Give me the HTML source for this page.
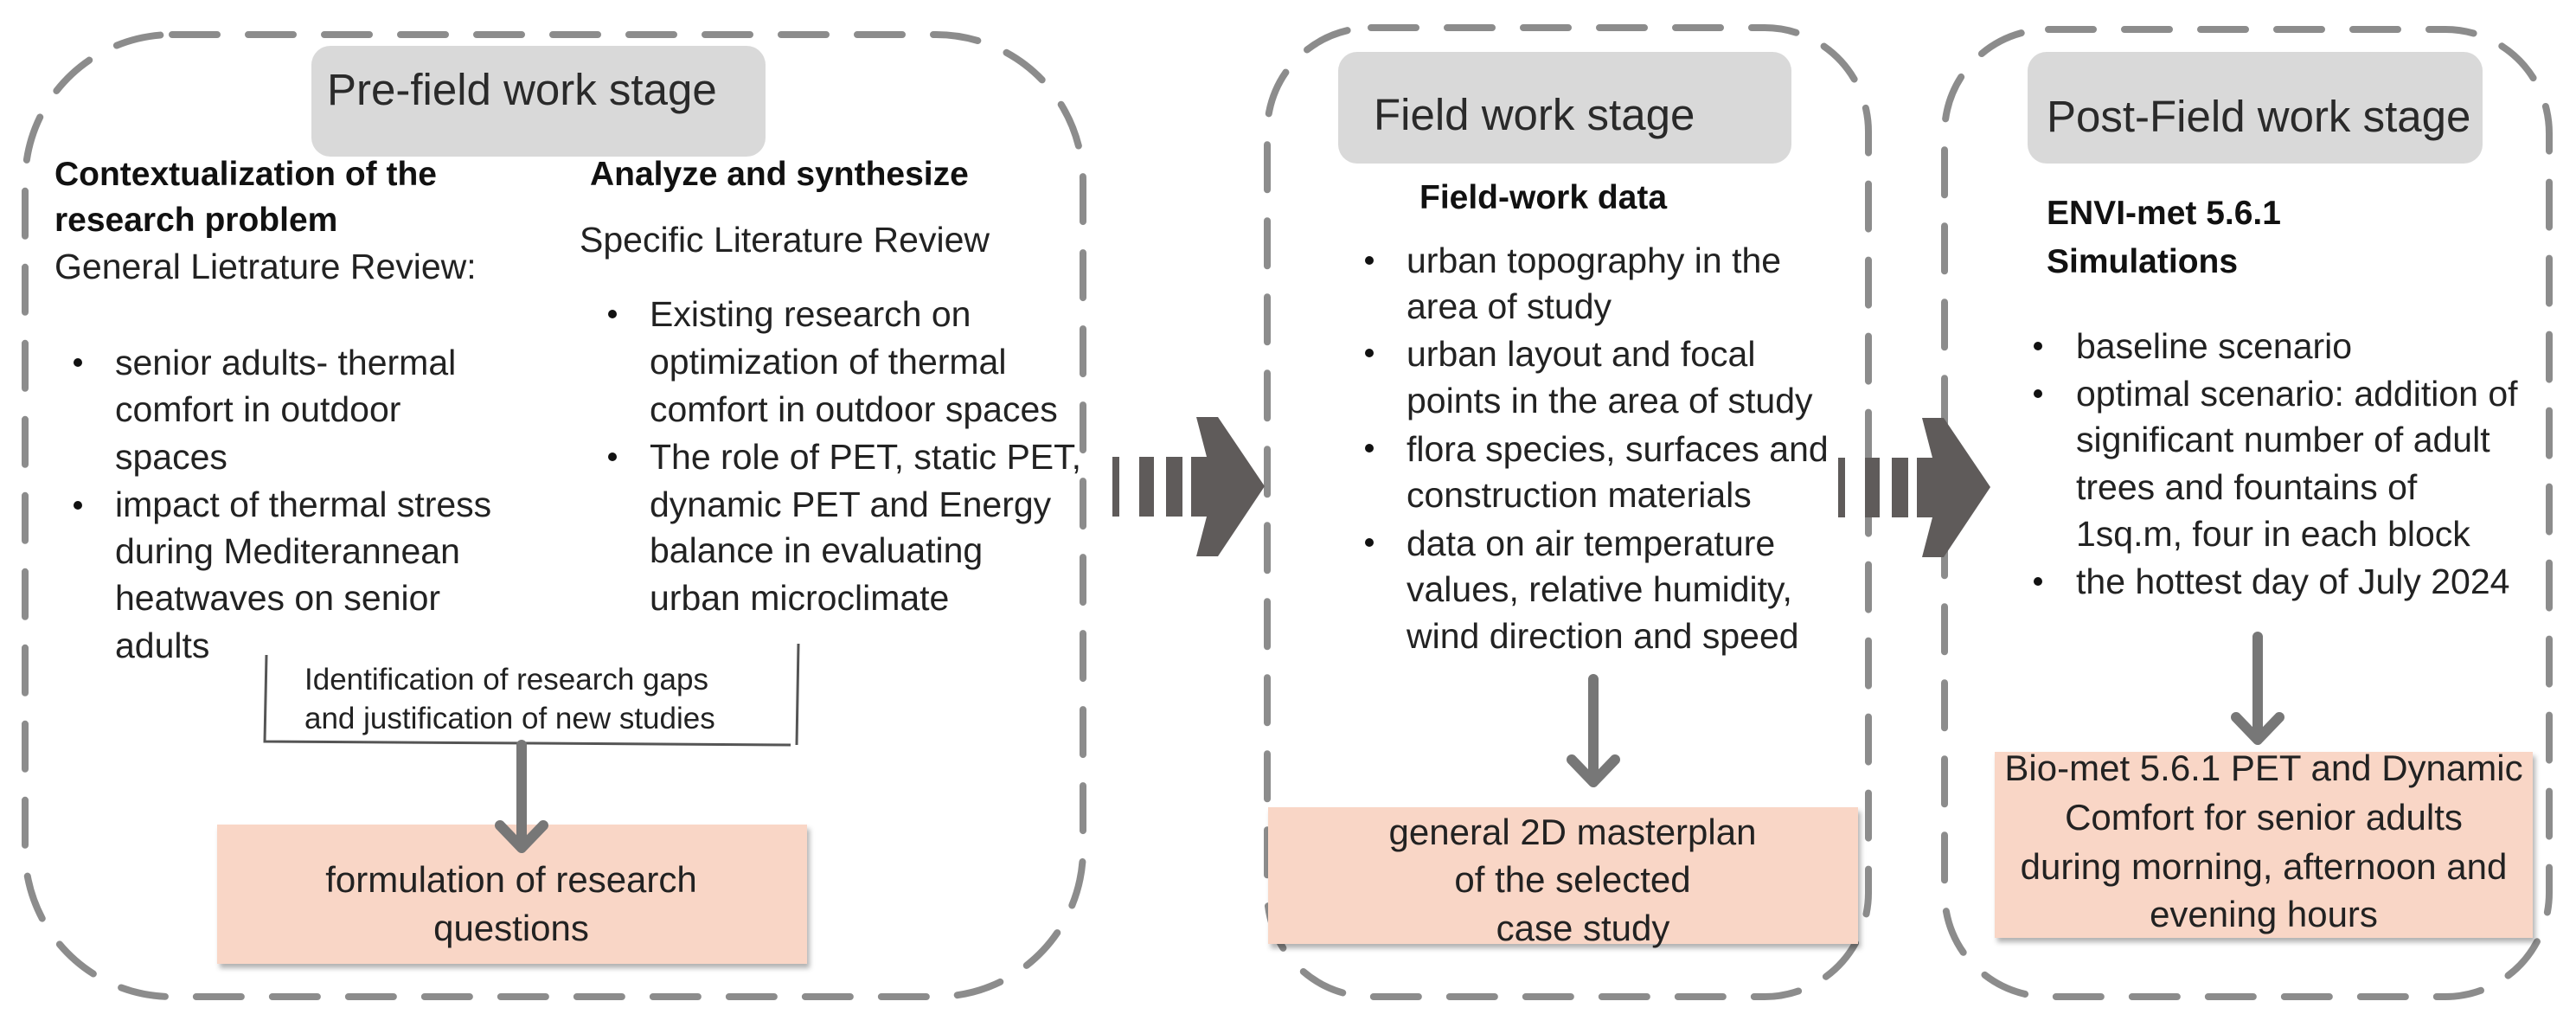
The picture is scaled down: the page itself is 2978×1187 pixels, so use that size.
<!DOCTYPE html>
<html><head><meta charset="utf-8"><style>
html,body{margin:0;padding:0;background:#fff;}
svg{display:block;}
text{font-family:"Liberation Sans",Arial,sans-serif;fill:#222;}
.b{font-size:41px;}
.h{font-size:51px;fill:#2a2a2a;}
.bd{font-size:39px;font-weight:bold;fill:#111;}
.s{font-size:35px;}
.p{font-size:42px;}
</style></head><body>
<svg width="2978" height="1187" viewBox="0 0 2978 1187" xmlns="http://www.w3.org/2000/svg">
<defs>
<filter id="sh" x="-5%" y="-5%" width="115%" height="120%"><feDropShadow dx="3" dy="5" stdDeviation="3" flood-color="#000" flood-opacity="0.3"/></filter>
</defs>
<g fill="none" stroke="#8c8c8c" stroke-width="8" stroke-dasharray="52 36" stroke-linecap="round">
<rect x="29" y="40" width="1223" height="1112" rx="170" ry="170"/>
<rect x="1465" y="32" width="695" height="1120" rx="120" ry="120"/>
<rect x="2248" y="34" width="699" height="1118" rx="120" ry="120"/>
</g>
<!-- headers -->
<rect x="360" y="53" width="525" height="128" rx="22" fill="#d9d9d9"/>
<rect x="1547" y="60" width="524" height="129" rx="22" fill="#d9d9d9"/>
<rect x="2344" y="60" width="526" height="129" rx="22" fill="#d9d9d9"/>
<text class="h" x="378" y="121">Pre-field work stage</text>
<text class="h" x="1588" y="150">Field work stage</text>
<text class="h" x="2366" y="152">Post-Field work stage</text>

<!-- box1 left column -->
<text class="bd" x="63" y="214">Contextualization of the</text>
<text class="bd" x="63" y="267">research problem</text>
<text class="b" x="63" y="322">General Lietrature Review:</text>
<circle cx="90" cy="419" r="5" fill="#111"/>
<circle cx="90" cy="584" r="5" fill="#111"/>
<text class="b" x="133" y="433">senior adults- thermal</text>
<text class="b" x="133" y="487">comfort in outdoor</text>
<text class="b" x="133" y="542">spaces</text>
<text class="b" x="133" y="597">impact of thermal stress</text>
<text class="b" x="133" y="651">during Mediterannean</text>
<text class="b" x="133" y="705">heatwaves on senior</text>
<text class="b" x="133" y="760">adults</text>
<!-- box1 right column -->
<text class="bd" x="682" y="214">Analyze and synthesize</text>
<text class="b" x="670" y="291">Specific Literature Review</text>
<circle cx="708" cy="363" r="5" fill="#111"/>
<circle cx="708" cy="528" r="5" fill="#111"/>
<text class="b" x="751" y="377">Existing research on</text>
<text class="b" x="751" y="432">optimization of thermal</text>
<text class="b" x="751" y="487">comfort in outdoor spaces</text>
<text class="b" x="751" y="542">The role of PET, static PET,</text>
<text class="b" x="751" y="597">dynamic PET and Energy</text>
<text class="b" x="751" y="650">balance in evaluating</text>
<text class="b" x="751" y="705">urban microclimate</text>

<!-- identification bracket -->
<path d="M308 757 L306 857 L914 861 M923 744 L921 861" fill="none" stroke="#555" stroke-width="3"/>
<text class="s" x="352" y="797">Identification of research gaps</text>
<text class="s" x="352" y="842">and justification of new studies</text>

<!-- pink boxes -->
<rect x="251" y="953" width="682" height="161" fill="#f9d6c6" filter="url(#sh)"/>
<rect x="1466" y="933" width="682" height="158" fill="#f9d6c6" filter="url(#sh)"/>
<rect x="2306" y="869" width="622" height="215" fill="#f9d6c6" filter="url(#sh)"/>
<g text-anchor="middle">
<text class="p" x="591" y="1031">formulation of research</text>
<text class="p" x="591" y="1087">questions</text>
<text class="p" x="1818" y="976">general 2D masterplan</text>
<text class="p" x="1818" y="1031">of the selected</text>
<text class="p" x="1830" y="1087">case study</text>
<text class="p" x="2617" y="902">Bio-met 5.6.1 PET and Dynamic</text>
<text class="p" x="2617" y="959">Comfort  for senior adults</text>
<text class="p" x="2617" y="1016">during morning, afternoon and</text>
<text class="p" x="2617" y="1071">evening hours</text>
</g>

<!-- small arrows -->
<g fill="none" stroke="#777" stroke-width="12" stroke-linecap="round" stroke-linejoin="round">
<path d="M603 861 L603 978 M578 954 L603 980 L628 954"/>
<path d="M1842 785 L1842 902 M1817 878 L1842 904 L1867 878"/>
<path d="M2610 736 L2610 853 M2585 829 L2610 855 L2635 829"/>
</g>

<!-- box2 -->
<text class="bd" x="1641" y="241">Field-work data</text>
<circle cx="1583" cy="301" r="5" fill="#111"/>
<circle cx="1583" cy="408" r="5" fill="#111"/>
<circle cx="1583" cy="518" r="5" fill="#111"/>
<circle cx="1583" cy="627" r="5" fill="#111"/>
<text class="b" x="1626" y="315">urban topography in the</text>
<text class="b" x="1626" y="368">area of study</text>
<text class="b" x="1626" y="423">urban layout and focal</text>
<text class="b" x="1626" y="477">points in the area of study</text>
<text class="b" x="1626" y="533">flora species, surfaces and</text>
<text class="b" x="1626" y="586">construction materials</text>
<text class="b" x="1626" y="642">data on air temperature</text>
<text class="b" x="1626" y="695">values, relative humidity,</text>
<text class="b" x="1626" y="749">wind direction and speed</text>

<!-- box3 -->
<text class="bd" x="2366" y="259">ENVI-met 5.6.1</text>
<text class="bd" x="2366" y="315">Simulations</text>
<circle cx="2356" cy="400" r="5" fill="#111"/>
<circle cx="2356" cy="455" r="5" fill="#111"/>
<circle cx="2356" cy="672" r="5" fill="#111"/>
<text class="b" x="2400" y="414">baseline scenario</text>
<text class="b" x="2400" y="469">optimal scenario: addition of</text>
<text class="b" x="2400" y="522">significant number of adult</text>
<text class="b" x="2400" y="577">trees and fountains of</text>
<text class="b" x="2400" y="631">1sq.m, four in each block</text>
<text class="b" x="2400" y="686">the hottest day of July 2024</text>

<!-- big arrows -->
<g fill="#5f5b5a">
<rect x="1286" y="528" width="8" height="69"/>
<rect x="1317" y="528" width="17" height="69"/>
<rect x="1348" y="528" width="19" height="69"/>
<path d="M1377 528 L1395 528 L1383 482 L1408 482 L1462 562 L1408 643 L1383 643 L1395 597 L1377 597 Z"/>
</g>
<g fill="#5f5b5a" transform="translate(839,1)">
<rect x="1286" y="528" width="8" height="69"/>
<rect x="1317" y="528" width="17" height="69"/>
<rect x="1348" y="528" width="19" height="69"/>
<path d="M1377 528 L1395 528 L1383 482 L1408 482 L1462 562 L1408 643 L1383 643 L1395 597 L1377 597 Z"/>
</g>
</svg>
</body></html>
